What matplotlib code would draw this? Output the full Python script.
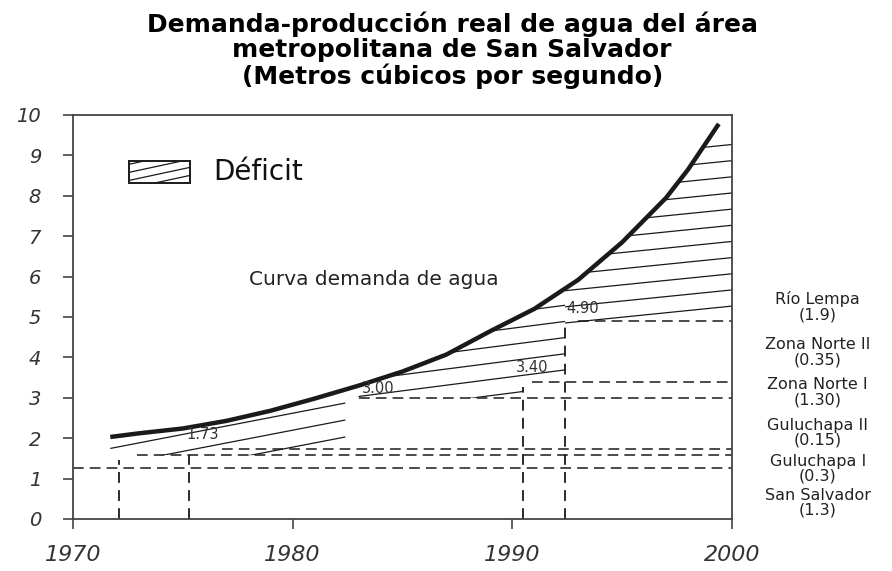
import numpy as np
import matplotlib.pyplot as plt
from matplotlib.path import Path
from matplotlib.patches import Rectangle

plt.rcParams['font.family'] = 'DejaVu Sans'

# Curva de demanda (m3/s)
demand_years = [1971.7, 1973, 1975, 1977, 1979, 1981, 1983, 1985, 1987,
                1989, 1991, 1993, 1995, 1997, 1998, 1999.4]
demand = [2.03, 2.12, 2.24, 2.43, 2.68, 2.98, 3.30, 3.65, 4.07,
          4.65, 5.20, 5.92, 6.85, 7.95, 8.65, 9.78]

# Produccion real: niveles (lineas discontinuas) y desde cuando
supply_levels = [1.27, 1.58, 1.73, 3.00, 3.40, 4.90]
supply_from = [1970, 1972.9, 1976.8, 1983.0, 1990.9, 1993.0]

# Entrada de cada fuente (verticales discontinuas)
source_years = [1972.1, 1975.3, 1990.5, 1992.4]
source_tops = [1.45, 1.58, 3.27, 4.85]

# Etiquetas de los escalones
step_labels = ['1.73', '3.00', '3.40', '4.90']
step_label_x = [1975.9, 1983.9, 1990.9, 1993.2]
step_label_y = [2.08, 3.24, 3.74, 5.22]

# Fuentes a la derecha
sources = ['Río Lempa', 'Zona Norte II', 'Zona Norte I',
           'Guluchapa II', 'Guluchapa I', 'San Salvador']
source_caps = ['1.9', '0.35', '1.30', '0.15', '0.3', '1.3']
source_label_y = [5.25, 4.13, 3.14, 2.13, 1.24, 0.40]

# Zonas de deficit: tramo de anios y piso (produccion) bajo la demanda
deficit_floor_x = [[1971.7, 1982.4], [1983.0, 1990.5, 1990.5, 1992.4], [1992.4, 2000.0]]
deficit_floor_y = [[1.58, 1.58], [3.0, 3.0, 3.4, 3.4], [4.8, 4.8]]

# rayado de cada zona (pendiente, primera linea, cuantas, separacion)
hatch_slope = [0.105, 0.07, 0.055]
hatch_first = [2.03, 3.29, 5.27]
hatch_count = [3, 6, 11]
hatch_step = [0.42, 0.40, 0.40]

fig = plt.figure(figsize=(8.92, 5.71), dpi=100)
ax = fig.add_axes([0.0818, 0.0911, 0.7388, 0.7075])

dark = '#1a1a1a'

# rayado del deficit
for fx, fy, s, y0, n, dy in zip(deficit_floor_x, deficit_floor_y, hatch_slope,
                                hatch_first, hatch_count, hatch_step):
    x0, x1 = fx[0], fx[-1]
    top_x = [x0] + [x for x in demand_years if x0 < x < x1] + [x1]
    top_y = list(np.interp(top_x, demand_years, demand))
    poly = list(zip(top_x, top_y)) + list(zip(fx[::-1], fy[::-1]))
    clip = Path(poly + [poly[0]], closed=True)
    xs = np.array([x0 - 1, x1])
    for k in range(n):
        ln, = ax.plot(xs, y0 + k * dy + s * (xs - x1), color=dark, lw=0.9)
        ln.set_clip_path(clip, ax.transData)

# produccion: lineas discontinuas
for lev, start in zip(supply_levels, supply_from):
    ax.plot([start, 2000], [lev, lev], color=dark, lw=1.1, dashes=(7, 4))
for yr, top in zip(source_years, source_tops):
    ax.plot([yr, yr], [0, top], color=dark, lw=1.3, dashes=(6, 4))

# demanda
ax.plot(demand_years, demand, color=dark, lw=3.2, solid_capstyle='butt')

for t, x, y in zip(step_labels, step_label_x, step_label_y):
    ax.text(x, y, t, fontsize=10.5, ha='center', va='center', color='#333')

ax.text(1978.0, 5.92, 'Curva demanda de agua', fontsize=14.5, va='center', color='#222')

# leyenda "Deficit"
box = Rectangle((0.085, 0.832), 0.0926, 0.0545, transform=ax.transAxes,
                facecolor='white', edgecolor=dark, lw=1.4)
ax.add_patch(box)
lx = np.array([0.08, 0.19])
for off in [0.818, 0.838, 0.858, 0.878]:
    ln, = ax.plot(lx, off + 0.35 * (lx - 0.085), color=dark, lw=0.9, transform=ax.transAxes)
    ln.set_clip_path(box)
ax.text(0.2124, 0.859, 'Déficit', transform=ax.transAxes, fontsize=20,
        va='center', color='#111')

# fuentes a la derecha
for name, cap, y in zip(sources, source_caps, source_label_y):
    ax.text(2003.9, y, f'{name}\n({cap})', fontsize=11.5, ha='center', va='center',
            linespacing=1.0, color='#222', clip_on=False)

ax.set_xlim(1970, 2000)
ax.set_ylim(0, 10)
ax.set_xticks([1970, 1980, 1990, 2000])
ax.set_yticks(range(0, 11))
for sp in ax.spines.values():
    sp.set_color('#444')
    sp.set_linewidth(1.3)
ax.tick_params(axis='both', direction='out', length=7, width=1.2, color='#444')
ax.tick_params(axis='y', pad=16, labelsize=14, labelcolor='#333')
ax.tick_params(axis='x', pad=12, labelsize=16, labelcolor='#333')
for lab in ax.get_xticklabels() + ax.get_yticklabels():
    lab.set_fontstyle('italic')

fig.text(0.507, 0.912,
         'Demanda-producción real de agua del área\nmetropolitana de San Salvador\n(Metros cúbicos por segundo)',
         ha='center', va='center', fontsize=18, fontweight='bold', linespacing=1.04)

fig.savefig('out.png', dpi=100)
